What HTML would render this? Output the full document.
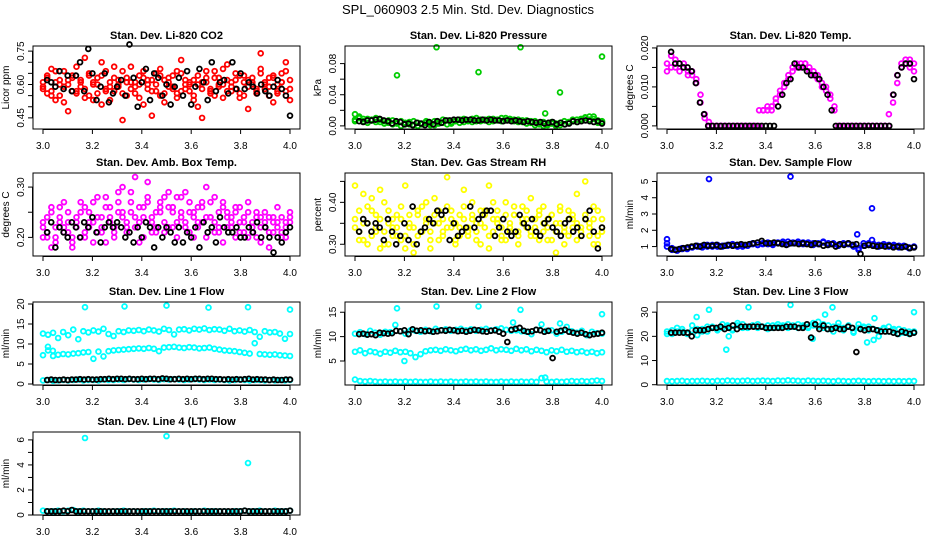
<!DOCTYPE html>
<html><head><meta charset="utf-8"><style>
html,body{margin:0;padding:0;background:#fff;}
svg{display:block;font-family:"Liberation Sans",Arial,sans-serif;}
</style></head><body>
<svg id="chart" width="936" height="540" viewBox="0 0 936 540">
<rect x="0" y="0" width="936" height="540" fill="#fff"/>
<text x="468" y="14" text-anchor="middle" font-size="13">SPL_060903  2.5 Min. Std. Dev. Diagnostics</text>
</svg>
<script>
// ---- data (y values; x = time from 3.0 to 4.0, evenly spaced samples) ----
const co2Red1=[0.58,0.63,0.55,0.66,0.60,0.52,0.62,0.57,0.68,0.59,0.54,0.64,0.61,0.56,0.70,0.58,0.53,0.63,0.60,0.66,0.55,0.61,0.59,0.64,0.51,0.62,0.57,0.60,0.67,0.56,0.63,0.58,0.54,0.65,0.60,0.57,0.62,0.50,0.61,0.66,0.58,0.55,0.63,0.60,0.69,0.57,0.62,0.54,0.64,0.59,0.61,0.56,0.67,0.58,0.63,0.52,0.60,0.65,0.57,0.62];
const co2Red2=[0.61,0.56,0.67,0.53,0.62,0.59,0.48,0.64,0.57,0.61,0.72,0.55,0.60,0.63,0.51,0.66,0.59,0.57,0.62,0.44,0.61,0.68,0.56,0.60,0.63,0.58,0.46,0.65,0.55,0.62,0.59,0.64,0.56,0.71,0.58,0.61,0.53,0.60,0.45,0.63,0.57,0.66,0.60,0.54,0.62,0.59,0.65,0.56,0.61,0.49,0.63,0.58,0.74,0.60,0.55,0.64,0.57,0.61,0.70,0.53];
const co2Red3=[0.59,0.64,0.57,0.61,0.55,0.66,0.60,0.63,0.56,0.62,0.58,0.65,0.53,0.60,0.64,0.57,0.61,0.68,0.59,0.56,0.63,0.58,0.61,0.54,0.66,0.60,0.62,0.57,0.64,0.52,0.61,0.59,0.66,0.57,0.62,0.60,0.55,0.64,0.58,0.61,0.56,0.63,0.59,0.67,0.57,0.61,0.58,0.64,0.55,0.62,0.60,0.57,0.65,0.61,0.59,0.63,0.56,0.61,0.66,0.58];
const co2Black=[0.62,0.61,0.59,0.66,0.58,0.64,0.57,0.64,0.70,0.57,0.76,0.65,0.53,0.59,0.65,0.52,0.56,0.59,0.62,0.55,0.78,0.63,0.50,0.61,0.67,0.53,0.65,0.63,0.55,0.60,0.51,0.59,0.63,0.55,0.66,0.51,0.59,0.67,0.61,0.53,0.70,0.57,0.61,0.62,0.56,0.70,0.58,0.65,0.58,0.61,0.59,0.56,0.60,0.57,0.55,0.59,0.62,0.58,0.55,0.46];

const presGreen1=[0.008,0.010,0.006,0.009,0.007,0.005,0.008,0.006,0.004,0.007,0.003,0.006,0.002,0.005,0.001,0.004,0.002,0.006,0.003,0.001,0.005,0.004,0.007,0.003,0.006,0.008,0.005,0.007,0.009,0.006,0.008,0.007,0.009,0.006,0.008,0.010,0.007,0.009,0.006,0.008,0.005,0.007,0.004,0.006,0.002,0.005,0.001,0.003,0.000,0.004,0.002,0.005,0.006,0.008,0.007,0.010,0.012,0.009,0.007,0.005];
const presGreen2=[0.006,0.012,0.009,0.004,0.008,0.010,0.005,0.003,0.007,0.002,0.005,0.000,0.004,0.002,0.006,0.000,0.003,0.004,0.001,0.006,0.003,0.008,0.002,0.005,0.007,0.004,0.009,0.006,0.005,0.010,0.006,0.008,0.005,0.009,0.007,0.006,0.010,0.007,0.008,0.005,0.007,0.003,0.006,0.001,0.004,0.000,0.002,0.005,0.003,0.001,0.006,0.004,0.008,0.005,0.009,0.011,0.008,0.012,0.004,0.006];
const presOutX=[3.0,3.17,3.33,3.5,3.67,3.77,3.83,4.0];
const presOutY=[0.015,0.065,0.101,0.069,0.101,0.016,0.043,0.089];
const presBlack=[0.006,0.005,0.007,0.007,0.008,0.009,0.007,0.006,0.003,0.006,0.005,0.002,0.003,0.001,0.004,0.003,0.001,0.005,0.002,0.006,0.004,0.007,0.007,0.008,0.008,0.007,0.008,0.008,0.007,0.007,0.008,0.007,0.008,0.007,0.007,0.006,0.007,0.006,0.007,0.006,0.005,0.006,0.005,0.004,0.005,0.003,0.004,0.005,0.002,0.004,0.002,0.003,0.006,0.005,0.006,0.007,0.006,0.005,0.006,0.003];

const tempMag1=[0.016,0.018,0.015,0.016,0.015,0.014,0.013,0.011,0.006,0.002,0,0,0,0,0,0,0,0,0,0,0,0,0,0.004,0.004,0.005,0.006,0.008,0.010,0.012,0.014,0.015,0.016,0.016,0.015,0.014,0.013,0.011,0.010,0.008,0.005,0,0,0,0,0,0,0,0,0,0,0,0,0,0.006,0.011,0.015,0.017,0.017,0.016];
const tempMag2=[0.014,0.015,0.017,0.014,0.016,0.013,0.014,0.012,0.008,0.003,0.001,0,0,0,0,0,0,0,0,0,0,0,0.004,0.004,0.005,0.004,0.007,0.009,0.011,0.013,0.015,0.016,0.015,0.016,0.014,0.013,0.012,0.010,0.009,0.007,0.004,0,0,0,0,0,0,0,0,0,0,0,0,0.003,0.008,0.013,0.016,0.016,0.015,0.014];
const tempBlack=[0.019,0.016,0.016,0.015,0.015,0.014,0.011,0.006,0.003,0,0,0,0,0,0,0,0,0,0,0,0,0,0,0,0,0,0.005,0.008,0.011,0.012,0.016,0.015,0.015,0.014,0.013,0.013,0.012,0.010,0.008,0.004,0,0,0,0,0,0,0,0,0,0,0,0,0,0,0.008,0.013,0.015,0.016,0.016,0.012];

const boxMag1=[0.22,0.20,0.25,0.19,0.23,0.27,0.21,0.18,0.24,0.20,0.26,0.22,0.19,0.24,0.21,0.28,0.23,0.20,0.25,0.30,0.22,0.27,0.24,0.19,0.26,0.31,0.23,0.21,0.25,0.28,0.22,0.26,0.20,0.24,0.29,0.21,0.25,0.23,0.27,0.20,0.24,0.28,0.22,0.19,0.25,0.23,0.26,0.21,0.24,0.20,0.23,0.25,0.19,0.22,0.24,0.21,0.23,0.20,0.22,0.24];
const boxMag2=[0.20,0.24,0.18,0.22,0.26,0.21,0.23,0.19,0.22,0.25,0.20,0.23,0.27,0.21,0.24,0.19,0.26,0.22,0.29,0.24,0.21,0.25,0.32,0.23,0.20,0.27,0.24,0.22,0.26,0.21,0.29,0.25,0.23,0.28,0.22,0.25,0.20,0.26,0.23,0.30,0.24,0.21,0.25,0.27,0.22,0.24,0.20,0.26,0.23,0.27,0.21,0.24,0.22,0.25,0.18,0.23,0.26,0.21,0.23,0.25];
const boxMag3=[0.23,0.21,0.26,0.20,0.24,0.22,0.25,0.20,0.23,0.27,0.21,0.25,0.23,0.28,0.22,0.26,0.24,0.21,0.27,0.25,0.23,0.29,0.22,0.26,0.24,0.28,0.21,0.25,0.27,0.23,0.26,0.22,0.28,0.25,0.23,0.27,0.24,0.22,0.26,0.24,0.27,0.23,0.21,0.26,0.24,0.22,0.25,0.23,0.21,0.25,0.22,0.20,0.24,0.23,0.21,0.24,0.22,0.24,0.20,0.23];
const boxBlack=[0.21,0.23,0.18,0.22,0.21,0.20,0.23,0.22,0.20,0.23,0.22,0.24,0.21,0.19,0.22,0.23,0.22,0.23,0.22,0.20,0.21,0.19,0.22,0.20,0.23,0.22,0.18,0.22,0.20,0.22,0.21,0.19,0.22,0.19,0.21,0.20,0.22,0.18,0.23,0.21,0.22,0.19,0.24,0.22,0.21,0.21,0.22,0.20,0.20,0.22,0.21,0.23,0.20,0.22,0.20,0.17,0.20,0.19,0.21,0.22];

const rhYel1=[0.36,0.33,0.42,0.30,0.38,0.34,0.29,0.40,0.35,0.32,0.37,0.31,0.44,0.34,0.30,0.38,0.33,0.36,0.29,0.41,0.35,0.32,0.39,0.34,0.30,0.37,0.43,0.33,0.36,0.31,0.38,0.34,0.29,0.40,0.35,0.32,0.37,0.33,0.39,0.30,0.36,0.34,0.41,0.32,0.38,0.35,0.31,0.37,0.33,0.39,0.30,0.36,0.34,0.42,0.32,0.37,0.35,0.30,0.38,0.33];
const rhYel2=[0.44,0.31,0.35,0.39,0.32,0.37,0.43,0.33,0.30,0.36,0.34,0.39,0.32,0.35,0.28,0.37,0.33,0.40,0.31,0.35,0.38,0.33,0.46,0.36,0.31,0.34,0.39,0.32,0.37,0.35,0.30,0.38,0.44,0.33,0.36,0.31,0.40,0.34,0.37,0.32,0.35,0.38,0.33,0.36,0.31,0.39,0.34,0.37,0.28,0.35,0.33,0.38,0.36,0.31,0.34,0.45,0.32,0.36,0.30,0.34];
const rhYel3=[0.34,0.38,0.31,0.35,0.41,0.33,0.36,0.30,0.38,0.34,0.32,0.36,0.29,0.37,0.34,0.32,0.39,0.35,0.33,0.37,0.31,0.36,0.34,0.38,0.35,0.32,0.36,0.34,0.40,0.33,0.35,0.37,0.32,0.36,0.38,0.34,0.31,0.35,0.37,0.33,0.39,0.36,0.32,0.34,0.37,0.33,0.36,0.31,0.35,0.38,0.34,0.32,0.37,0.35,0.33,0.36,0.34,0.39,0.32,0.36];
const rhBlack=[0.33,0.36,0.35,0.33,0.35,0.34,0.31,0.36,0.33,0.30,0.32,0.35,0.31,0.39,0.30,0.33,0.34,0.36,0.35,0.38,0.37,0.38,0.31,0.35,0.32,0.33,0.34,0.39,0.34,0.36,0.37,0.38,0.38,0.32,0.34,0.36,0.33,0.32,0.33,0.37,0.35,0.34,0.36,0.33,0.32,0.35,0.36,0.34,0.33,0.32,0.35,0.36,0.33,0.34,0.32,0.36,0.38,0.33,0.29,0.34];

const flowBlue1=[1.2,0.9,0.8,0.85,0.9,0.95,1.0,1.05,1.0,1.1,1.0,1.05,1.1,1.05,1.1,1.0,1.1,1.15,1.1,1.2,1.15,1.2,1.25,1.2,1.3,1.25,1.2,1.25,1.2,1.2,1.15,1.25,1.2,1.15,1.1,1.2,1.15,1.1,0.9,1.2,1.1,1.15,1.1,1.05,1.1,1.0,1.05,1.0,0.95,1.0];
const flowBlue2=[1.0,0.8,0.75,0.9,0.85,0.95,1.05,0.95,1.1,1.0,1.1,1.0,1.05,1.15,1.0,1.1,1.05,1.2,1.1,1.15,1.25,1.1,1.2,1.3,1.15,1.2,1.3,1.15,1.25,1.1,1.2,1.3,1.1,1.2,1.05,1.15,1.2,1.0,0.8,1.05,1.2,1.05,1.0,1.15,1.0,1.1,0.95,1.05,0.9,0.95];
const flowOutX=[3.0,3.17,3.5,3.77,3.83,3.83];
const flowOutY=[1.45,5.15,5.3,1.75,3.35,1.4];
const flowBlack=[0.85,0.8,0.85,0.9,0.95,1.0,1.05,1.0,1.1,1.05,1.05,1.1,1.0,1.05,1.1,1.05,1.1,1.15,1.1,1.15,1.2,1.25,1.35,1.2,1.2,1.25,1.2,1.15,1.1,1.2,1.2,1.15,1.2,1.15,1.1,1.2,1.15,1.05,1.1,1.15,1.0,1.15,1.1,1.2,1.1,1.15,0.55,1.05,1.1,1.05,1.0,1.05,1.0,1.05,0.95,1.0,0.95,1.0,0.9,0.95];

const l1Top=[12.6,12.3,12.8,11.5,13.0,12.2,13.6,11.2,13.2,12.9,13.4,13.1,13.8,12.5,12.0,13.2,13.0,13.4,13.3,13.5,13.2,13.6,13.4,13.1,13.8,13.5,12.4,13.6,13.7,13.4,13.8,13.6,13.9,13.5,13.7,13.6,13.3,13.8,13.2,13.4,13.1,13.5,13.0,11.8,13.2,12.9,13.0,12.6,11.3,12.5];
const l1Mid=[7.2,8.4,7.0,7.3,7.5,7.4,7.6,7.7,7.9,8.0,6.3,8.1,6.9,8.2,8.4,8.5,8.6,8.7,8.8,8.9,8.8,9.0,8.8,8.2,9.1,9.2,9.3,9.1,9.0,9.2,9.1,8.9,9.0,9.1,8.8,8.6,8.4,8.3,8.2,8.0,7.8,7.6,10.2,7.5,7.4,7.3,7.4,7.2,7.1,7.0];
const l1Low=[0.9,1.0,0.8,0.9,1.0,0.9,1.0,1.1,0.9,1.0,1.0,0.9,1.1,1.0,1.0,1.1,1.0,1.2,1.1,1.0,1.1,1.2,1.1,1.0,1.2,1.1,1.2,1.1,1.0,1.1,1.2,1.1,1.0,1.1,1.0,1.1,1.0,0.9,1.0,1.1,1.0,0.9,1.0,1.0,0.9,1.0,0.9,1.0,0.9,1.0];
const l1OutX=[3.17,3.33,3.5,3.67,3.83,4.0,3.02,3.04];
const l1OutY=[19.2,19.4,19.6,19.1,19.2,18.6,9.3,8.3];
const l1Black=[1.0,1.1,1.0,1.0,1.1,1.0,1.1,1.1,1.2,1.1,1.2,1.1,1.1,1.2,1.2,1.3,1.2,1.3,1.3,1.2,1.3,1.2,1.2,1.3,1.2,1.3,1.3,1.2,1.4,1.3,1.2,1.2,1.3,1.2,1.3,1.2,1.3,1.3,1.2,1.3,1.3,1.2,1.2,1.1,1.2,1.1,1.2,1.1,1.2,1.3,1.1,1.2,1.1,1.1,1.0,1.1,1.0,1.0,1.1,1.1];

const l2Top=[10.6,10.9,10.5,11.2,10.8,10.4,11.0,10.9,12.4,11.1,10.6,11.3,11.2,11.0,11.4,11.1,11.6,11.3,11.5,11.2,11.4,11.6,11.3,11.5,11.2,11.4,11.6,11.3,11.5,11.7,11.4,11.2,11.3,11.1,11.0,10.5,11.4,12.5,11.2,11.3,10.6,11.0,12.0,11.1,10.8,11.2,10.3,11.0,10.7,10.6];
const l2Mid=[6.9,7.2,6.6,7.0,6.8,6.5,6.9,6.7,7.1,6.8,6.9,6.6,5.8,6.4,7.0,7.2,7.3,7.1,7.4,7.2,7.0,7.3,7.5,7.2,7.4,7.1,7.3,7.6,7.2,7.4,7.3,7.1,7.5,7.2,7.4,7.0,7.3,7.1,6.8,7.2,7.0,7.3,6.9,7.1,6.8,7.0,6.7,6.9,6.6,6.8];
const l2Low=[1.2,0.9,0.8,0.9,0.8,0.7,0.8,0.7,0.8,0.7,0.8,0.7,0.8,0.7,0.7,0.8,0.7,0.8,0.7,0.8,0.7,0.7,0.8,0.7,0.8,0.7,0.8,0.7,0.7,0.8,0.7,0.8,0.7,0.8,0.7,0.8,0.7,1.5,0.8,0.7,0.8,0.7,0.8,0.9,0.8,0.9,0.8,0.9,1.0,0.9];
const l2OutX=[3.17,3.33,3.5,3.67,3.83,4.0,3.2,3.77,3.64];
const l2OutY=[15.8,16.2,16.2,15.5,12.7,14.6,5.0,1.6,12.9];
const l2Black=[10.5,10.6,10.4,10.5,10.3,10.8,10.7,10.6,10.7,11.2,11.1,11.3,10.5,11.5,11.2,11.3,11.1,11.2,11.0,11.1,11.3,11.2,11.4,11.3,11.1,11.2,11.0,11.2,11.4,11.3,11.1,11.0,11.2,11.3,11.0,10.6,8.9,11.4,11.6,11.8,11.2,11.0,11.1,11.4,11.3,11.0,11.2,5.6,11.0,11.2,11.4,11.0,10.8,10.6,10.8,10.5,10.3,10.5,10.6,10.8];

const l3Top1=[22.0,21.0,23.5,22.0,21.5,22.5,20.5,23.0,22.0,24.0,23.0,23.5,24.5,22.5,25.5,23.5,24.0,24.5,23.5,24.0,24.5,23.5,24.0,24.5,25.0,24.0,23.5,24.5,24.0,25.5,24.0,23.5,24.5,24.0,25.5,22.5,24.0,21.5,25.0,23.5,24.0,23.0,20.0,23.0,24.0,22.5,23.0,21.5,22.0,21.5];
const l3Top2=[21.0,22.5,22.0,23.0,21.0,24.5,23.0,22.0,24.0,23.5,22.5,25.0,24.0,23.0,24.5,25.0,23.5,24.5,25.0,24.0,23.0,24.5,25.0,24.0,23.5,24.5,25.0,24.0,23.5,24.5,26.0,25.0,23.0,22.0,24.0,23.5,24.5,22.0,23.5,24.0,22.5,18.5,22.5,23.5,22.0,23.0,21.0,22.5,21.0,22.0];
const l3Low=[1.5,1.4,1.5,1.6,1.4,1.5,1.5,1.6,1.5,1.4,1.6,1.5,1.7,1.6,1.5,1.6,1.7,1.5,1.6,1.7,1.6,1.5,1.7,1.6,1.8,1.7,1.6,1.5,1.7,1.6,1.5,1.6,1.5,1.4,1.6,1.5,1.4,1.5,1.6,1.5,1.4,1.5,1.5,1.4,1.5,1.4,1.5,1.4,1.5,1.5];
const l3OutX=[3.12,3.17,3.24,3.25,3.33,3.5,3.64,3.67,3.59,3.84,3.81,4.0];
const l3OutY=[28,31,14.5,20,32,33,29,32,19,27.5,17.5,30];
const l3Black=[21.5,21.5,21.5,21.5,21.5,20.0,22.5,22.5,22.5,23.0,23.5,23.5,24.0,23.0,23.5,24.5,23.0,24.0,24.0,24.0,24.0,24.0,24.0,23.5,23.5,23.5,23.5,23.5,24.0,24.0,24.0,23.5,23.5,25.0,19.5,25.0,23.0,24.5,23.0,23.0,23.5,23.0,23.0,24.0,23.5,13.5,23.0,22.5,23.0,23.0,22.5,22.0,22.0,22.0,21.5,21.0,22.0,21.5,21.0,21.5];

const l4Cyan=[0.35,0.3,0.3,0.35,0.3,0.35,0.4,0.3,0.35,0.3,0.3,0.35,0.3,0.25,0.3,0.3,0.35,0.3,0.3,0.25,0.3,0.3,0.35,0.3,0.3,0.3,0.35,0.3,0.3,0.25,0.3,0.3,0.35,0.3,0.3,0.3,0.3,0.25,0.3,0.3,0.35,0.3,0.3,0.35,0.3,0.3,0.35,0.3,0.3,0.35];
const l4OutX=[3.17,3.5,3.83];
const l4OutY=[6.15,6.3,4.15];
const l4Black=[0.3,0.3,0.3,0.3,0.35,0.3,0.4,0.3,0.3,0.3,0.3,0.3,0.3,0.3,0.3,0.3,0.3,0.3,0.3,0.3,0.3,0.3,0.3,0.3,0.3,0.3,0.3,0.3,0.3,0.3,0.3,0.3,0.3,0.3,0.3,0.3,0.3,0.3,0.3,0.3,0.3,0.3,0.3,0.3,0.3,0.3,0.3,0.3,0.35,0.3,0.3,0.3,0.3,0.3,0.3,0.3,0.3,0.3,0.3,0.35];

const xTicks=[3.0,3.2,3.4,3.6,3.8,4.0];

const COLS=[33,345,657], ROWS=[46,173,302,432], W=267, H=83;
const svg=document.getElementById('chart');
const NS='http://www.w3.org/2000/svg';
function mk(tag,attrs,parent){const e=document.createElementNS(NS,tag);for(const k in attrs)e.setAttribute(k,attrs[k]);(parent||svg).appendChild(e);return e;}

const panels=[
 {c:0,r:0,title:'Stan. Dev. Li-820 CO2',yl:'Licor ppm',dom:[0.40,0.773],ticks:[0.45,0.5,0.55,0.6,0.65,0.7,0.75],labs:[0.45,0.60,0.75],dec:2,col:'#ff0000',
  series:[co2Red1,co2Red2,co2Red3],outX:[],outY:[],black:co2Black},
 {c:1,r:0,title:'Stan. Dev. Li-820 Pressure',yl:'kPa',dom:[-0.004,0.1026],ticks:[0,0.02,0.04,0.06,0.08],labs:[0,0.04,0.08],dec:2,col:'#00cc00',
  series:[presGreen1,presGreen2],outX:presOutX,outY:presOutY,black:presBlack},
 {c:2,r:0,title:'Stan. Dev. Li-820 Temp.',yl:'degrees C',dom:[-0.0008,0.0205],ticks:[0,0.005,0.01,0.015,0.02],labs:[0,0.01,0.02],dec:3,col:'#ff00ff',
  series:[tempMag1,tempMag2],outX:[],outY:[],black:tempBlack},
 {c:0,r:1,title:'Stan. Dev. Amb. Box Temp.',yl:'degrees C',dom:[0.163,0.328],ticks:[0.2,0.25,0.3],labs:[0.2,0.3],dec:2,col:'#ff00ff',
  series:[boxMag1,boxMag2,boxMag3],outX:[],outY:[],black:boxBlack},
 {c:1,r:1,title:'Stan. Dev. Gas Stream RH',yl:'percent',dom:[0.272,0.47],ticks:[0.3,0.35,0.4,0.45],labs:[0.3,0.4],dec:2,col:'#ffff00',
  series:[rhYel1,rhYel2,rhYel3],outX:[],outY:[],black:rhBlack},
 {c:2,r:1,title:'Stan. Dev. Sample Flow',yl:'ml/min',dom:[0.42,5.52],ticks:[1,2,3,4,5],labs:[1,2,3,4,5],dec:0,col:'#0000ff',
  series:[flowBlue1,flowBlue2],outX:flowOutX,outY:flowOutY,black:flowBlack},
 {c:0,r:2,title:'Stan. Dev. Line 1 Flow',yl:'ml/min',dom:[-0.25,20.5],ticks:[0,5,10,15,20],labs:[0,5,10,15,20],dec:0,col:'#00ffff',
  series:[l1Top,l1Mid,l1Low],outX:l1OutX,outY:l1OutY,black:l1Black},
 {c:1,r:2,title:'Stan. Dev. Line 2 Flow',yl:'ml/min',dom:[0.08,17.1],ticks:[5,10,15],labs:[5,10,15],dec:0,col:'#00ffff',
  series:[l2Top,l2Mid,l2Low],outX:l2OutX,outY:l2OutY,black:l2Black},
 {c:2,r:2,title:'Stan. Dev. Line 3 Flow',yl:'ml/min',dom:[-0.12,34.2],ticks:[0,10,20,30],labs:[0,10,20,30],dec:0,col:'#00ffff',
  series:[l3Top1,l3Top2,l3Low],outX:l3OutX,outY:l3OutY,black:l3Black},
 {c:0,r:3,title:'Stan. Dev. Line 4 (LT) Flow',yl:'ml/min',dom:[0,6.63],ticks:[0,1,2,3,4,5,6],labs:[0,2,4,6],dec:0,col:'#00ffff',
  series:[l4Cyan],outX:l4OutX,outY:l4OutY,black:l4Black}
];

panels.forEach((p,pi)=>{
  const L=COLS[p.c], T=ROWS[p.r];
  const g=mk('g',{});
  
  
  const sx=v=>L+10+(v-3)*247;
  const sy=v=>T+H-(v-p.dom[0])/(p.dom[1]-p.dom[0])*H;
  const tt=mk('text',{x:L+W/2,y:T-7,'text-anchor':'middle','font-size':11,'font-weight':'bold'},g);
  tt.textContent=p.title;
  
  
  const pts=mk('g',{fill:'none','stroke-width':1.8},g);
  
  
  p.series.forEach(s=>{
    s.forEach((v,i)=>{
      const c=mk('circle',{cx:sx(3+i/(s.length-1)),cy:sy(v),r:2.4,stroke:p.col},pts);
      
      
    });
  });
  p.outX.forEach((x,i)=>{
    const c=mk('circle',{cx:sx(x),cy:sy(p.outY[i]),r:2.4,stroke:p.col},pts);
    
    
  });
  p.black.forEach((v,i)=>{
    const c=mk('circle',{cx:sx(3+(i+1)/p.black.length),cy:sy(v),r:2.4,stroke:'#000'},pts);
    
    
  });
  const bx=mk('rect',{x:L,y:T,width:W,height:H,fill:'none',stroke:'#000','stroke-width':1},g);
  
  
  const xa=mk('g',{},g);
  
  
  mk('line',{x1:sx(3),x2:sx(4),y1:T+H+0.5,y2:T+H+0.5,stroke:'#000'},xa);
  xTicks.forEach(v=>{
    mk('line',{x1:sx(v),x2:sx(v),y1:T+H,y2:T+H+5,stroke:'#000'},xa);
    const t=mk('text',{x:sx(v),y:T+H+20,'text-anchor':'middle','font-size':10},xa);
    t.textContent=v.toFixed(1);
    
    
  });
  const ya=mk('g',{},g);
  
  
  mk('line',{x1:L-0.5,x2:L-0.5,y1:sy(p.ticks[0]),y2:sy(p.ticks[p.ticks.length-1]),stroke:'#000'},ya);
  p.ticks.forEach(v=>{
    mk('line',{x1:L-5,x2:L,y1:sy(v),y2:sy(v),stroke:'#000'},ya);
  });
  p.labs.forEach(v=>{
    const y=sy(v);
    const t=mk('text',{x:L-9,y:y,'text-anchor':'middle','font-size':10,transform:'rotate(-90 '+(L-9)+' '+y+')'},ya);
    t.textContent=v.toFixed(p.dec);
    
    
  });
  const yt=mk('text',{x:L-24,y:T+H/2,'text-anchor':'middle','font-size':10,transform:'rotate(-90 '+(L-24)+' '+(T+H/2)+')'},g);
  yt.textContent=p.yl;
  
  
});
</script>
</body></html>
